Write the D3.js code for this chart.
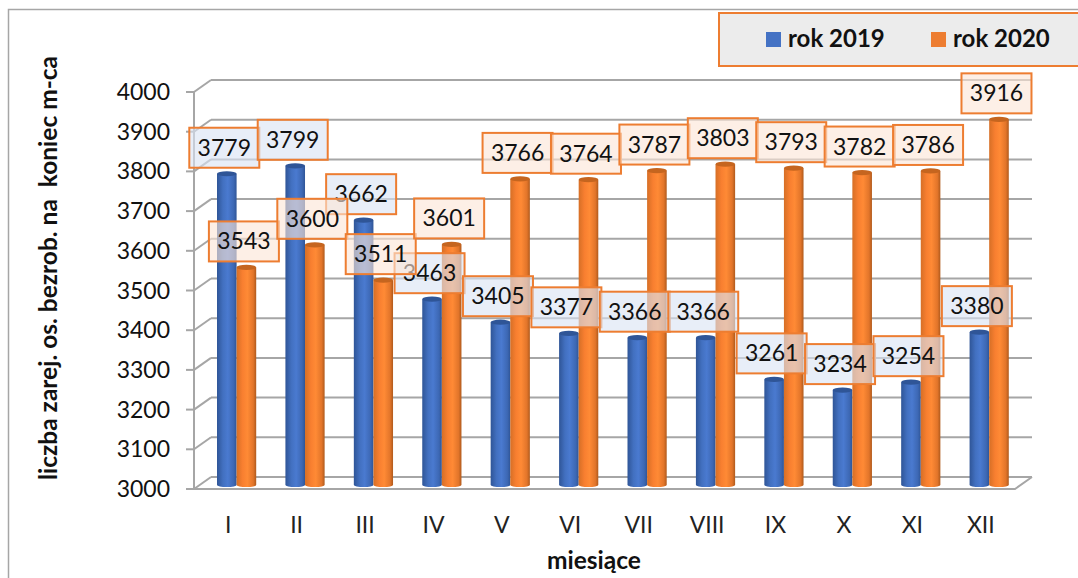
<!DOCTYPE html>
<html>
<head>
<meta charset="utf-8">
<script src="https://cdn.jsdelivr.net/npm/d3@7"></script>
<style>
  html, body { margin: 0; padding: 0; background: #fff; }
  svg { display: block; font-family: Lato, "Open Sans", sans-serif; }
</style>
</head>
<body>
<div id="chart"></div>
<script>
const months = ['I', 'II', 'III', 'IV', 'V', 'VI', 'VII', 'VIII', 'IX', 'X', 'XI', 'XII'];
const rok2019 = [3779, 3799, 3662, 3463, 3405, 3377, 3366, 3366, 3261, 3234, 3254, 3380];
const rok2020 = [3543, 3600, 3511, 3601, 3766, 3764, 3787, 3803, 3793, 3782, 3786, 3916];
const yTicks = [3000, 3100, 3200, 3300, 3400, 3500, 3600, 3700, 3800, 3900, 4000];
const seriesNames = ['rok 2019', 'rok 2020'];

const width = 1078;
const height = 578;
// depth of the fake 3d floor
const depthX = 17;
const depthY = -12;
const barW = 19.6;

const svg = d3.select('#chart').append('svg')
  .attr('width', width)
  .attr('height', height);

const defs = svg.append('defs');
const addGradient = (id, stops) => {
  const g = defs.append('linearGradient').attr('id', id);
  stops.forEach(s => g.append('stop').attr('offset', s[0]).attr('stop-color', s[1]));
};
addGradient('blueBar', [[0, '#2f5597'], [0.3, '#4270c0'], [0.55, '#4a7ad0'], [0.85, '#3d68b4'], [1, '#2f5597']]);
addGradient('orangeBar', [[0, '#d66f26'], [0.3, '#f87f30'], [0.55, '#ff8a35'], [0.85, '#e2752a'], [1, '#b05a1c']]);

// outer chart frame
svg.append('path')
  .attr('d', 'M8.5,578V9.5H1078')
  .attr('fill', 'none')
  .attr('stroke', '#a6a6a6')
  .attr('stroke-width', 1.5);

const x = d3.scaleBand()
  .domain(months)
  .range([194, 1015]);
const y = d3.scaleLinear()
  .domain([3000, 4000])
  .range([489, 92]);

const step = x.bandwidth();
const grid = svg.append('g').attr('fill', 'none').attr('stroke', '#a6a6a6').attr('stroke-width', 2);

// back wall gridlines
grid.selectAll('line.back')
  .data(yTicks)
  .enter()
  .append('line')
  .attr('class', 'back')
  .attr('x1', x.range()[0] + depthX)
  .attr('x2', x.range()[1] + depthX)
  .attr('y1', d => y(d) + depthY)
  .attr('y2', d => y(d) + depthY);

// left wall slants
grid.selectAll('line.side')
  .data(yTicks)
  .enter()
  .append('line')
  .attr('class', 'side')
  .attr('x1', x.range()[0])
  .attr('x2', x.range()[0] + depthX)
  .attr('y1', d => y(d))
  .attr('y2', d => y(d) + depthY);

// floor
grid.append('path')
  .attr('d', `M${x.range()[0]},${y(3000)}H${x.range()[1]}l${depthX},${depthY}`);

// value axis
grid.append('line')
  .attr('x1', x.range()[0])
  .attr('x2', x.range()[0])
  .attr('y1', y(4000))
  .attr('y2', y(3000));
grid.selectAll('line.tick')
  .data(yTicks)
  .enter()
  .append('line')
  .attr('class', 'tick')
  .attr('x1', x.range()[0] - 8)
  .attr('x2', x.range()[0])
  .attr('y1', d => y(d))
  .attr('y2', d => y(d));

svg.selectAll('text.yTick')
  .data(yTicks)
  .enter()
  .append('text')
  .attr('class', 'yTick')
  .attr('x', 170)
  .attr('y', d => y(d) + 8)
  .attr('text-anchor', 'end')
  .attr('font-size', 23)
  .attr('fill', '#111')
  .text(d => d);

svg.selectAll('text.xTick')
  .data(months)
  .enter()
  .append('text')
  .attr('class', 'xTick')
  .attr('x', d => x(d) + step / 2)
  .attr('y', 533)
  .attr('text-anchor', 'middle')
  .attr('font-size', 23)
  .attr('fill', '#222')
  .text(d => d);

svg.append('text')
  .attr('x', 594)
  .attr('y', 569)
  .attr('text-anchor', 'middle')
  .attr('font-size', 24.5)
  .attr('font-weight', 700)
  .attr('fill', '#111')
  .text('miesiące');

svg.append('text')
  .attr('transform', 'translate(57, 268) rotate(-90)')
  .attr('text-anchor', 'middle')
  .attr('font-size', 24.5)
  .attr('font-weight', 700)
  .attr('fill', '#111')
  .style('white-space', 'pre')
  .text('liczba zarej. os. bezrob. na  koniec m-ca');

// bars stand a bit behind the front edge
const barShiftY = depthY / 2;
const barLeft = (m, s) => x(m) + 23 + s * barW;
const barTop = v => y(v) + barShiftY;

const drawBars = (values, s, fillId, topColor) => {
  const g = svg.append('g');
  g.selectAll('path')
    .data(months)
    .enter()
    .append('path')
    .attr('fill', `url(#${fillId})`)
    .attr('d', (m, i) => {
      const left = barLeft(m, s);
      const top = barTop(values[i]);
      const base = y(3000) + barShiftY + 2;
      return `M${left},${top}V${base}A${barW / 2},2 0 0 0 ${left + barW},${base}V${top}Z`;
    });
  g.selectAll('ellipse')
    .data(months)
    .enter()
    .append('ellipse')
    .attr('cx', m => barLeft(m, s) + barW / 2)
    .attr('cy', (m, i) => barTop(values[i]))
    .attr('rx', barW / 2)
    .attr('ry', 2.6)
    .attr('fill', topColor);
};

drawBars(rok2019, 0, 'blueBar', '#2f5597');
drawBars(rok2020, 1, 'orangeBar', '#c5651f');

const drawLabels = (values, s, fill) => {
  const g = svg.append('g');
  const labels = g.selectAll('g')
    .data(months)
    .enter()
    .append('g')
    .attr('transform', (m, i) => `translate(${barLeft(m, s) + barW / 2 - 2.5}, ${barTop(values[i]) - 26})`);
  labels.append('rect')
    .attr('x', -35)
    .attr('y', -20)
    .attr('width', 70)
    .attr('height', 40)
    .attr('fill', fill)
    .attr('fill-opacity', 0.62)
    .attr('stroke', '#ed7d31')
    .attr('stroke-width', 2);
  labels.append('text')
    .attr('y', 8)
    .attr('text-anchor', 'middle')
    .attr('font-size', 23)
    .attr('fill', '#111')
    .text((m, i) => values[i]);
};

drawLabels(rok2019, 0, '#dae3f3');
drawLabels(rok2020, 1, '#fbe5d6');

// legend
svg.append('rect')
  .attr('x', 719)
  .attr('y', 13)
  .attr('width', 365)
  .attr('height', 53)
  .attr('fill', '#ececec')
  .attr('stroke', '#ed7d31')
  .attr('stroke-width', 2);

const legendColors = ['#4472c4', '#ed7d31'];
const legendX = d3.scaleOrdinal().domain(seriesNames).range([766, 931]);
const legend = svg.selectAll('g.legend')
  .data(seriesNames)
  .enter()
  .append('g')
  .attr('class', 'legend')
  .attr('transform', d => `translate(${legendX(d)}, 32)`);
legend.append('rect')
  .attr('width', 15)
  .attr('height', 15)
  .attr('fill', (d, i) => legendColors[i]);
legend.append('text')
  .attr('x', 22)
  .attr('y', 15)
  .attr('font-size', 24)
  .attr('font-weight', 700)
  .attr('fill', '#111')
  .text(d => d);
</script>
</body>
</html>
